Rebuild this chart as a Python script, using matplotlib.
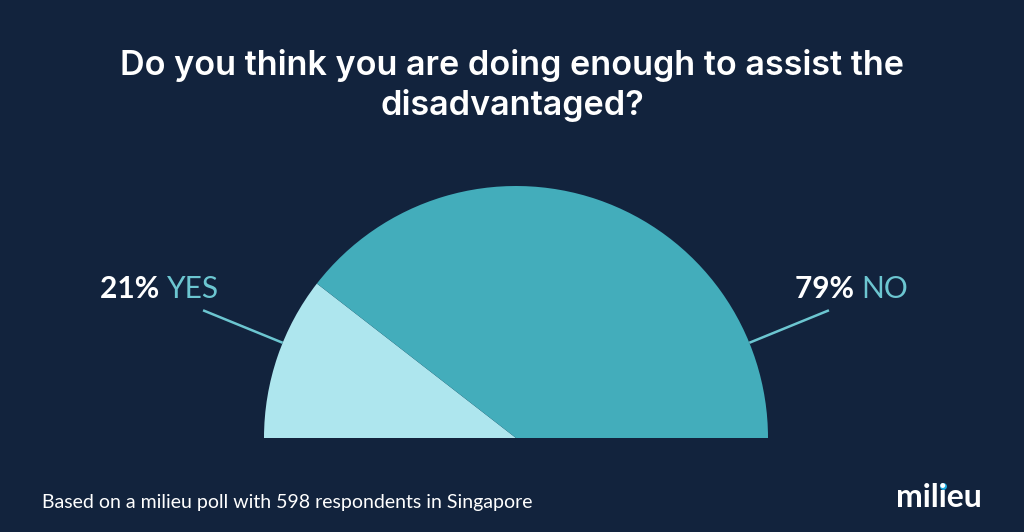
import matplotlib.pyplot as plt
import numpy as np

# data
labels = ["YES", "NO"]
values = [21, 79]
pct_text = ["21%", "79%"]

title_lines = ["Do you think you are doing enough to assist the", "disadvantaged?"]
footer = "Based on a milieu poll with 598 respondents in Singapore"

bg = "#12233d"
c_yes = "#aee6ee"
c_no = "#43adbb"
c_lab = "#6cc6d1"

W, H = 1024, 532
fig = plt.figure(figsize=(W / 100, H / 100), dpi=100, facecolor=bg)
ax = fig.add_axes([0, 0, 1, 1])

cx, cy, r = 516, H - 438, 252

# half pie: pad with an invisible wedge for the lower half
ax.pie(values + [sum(values)], colors=[c_yes, c_no, "none"],
       startangle=180, counterclock=False, radius=r,
       center=(cx, cy), frame=True, wedgeprops=dict(linewidth=0))
ax.set_xlim(0, W)
ax.set_ylim(0, H)
ax.set_aspect("equal")
ax.axis("off")

# leader lines
for ang in [157.8, 22.2]:
    a = np.radians(ang)
    ax.plot([cx + r * np.cos(a), cx + 338 * np.cos(a)],
            [cy + r * np.sin(a), cy + 338 * np.sin(a)],
            color=c_lab, lw=1.8, solid_capstyle="butt")

fig.canvas.draw()
rend = fig.canvas.get_renderer()

# labels
lab_y = H - 298
for x0, pct, lab in [(100, pct_text[0], labels[0]), (795, pct_text[1], labels[1])]:
    t = ax.text(x0, lab_y, pct + " ", color="white", fontsize=21.5,
                family="Lato", weight="bold", va="baseline")
    bb = t.get_window_extent(rend)
    ax.text(bb.x1, lab_y, lab, color=c_lab, fontsize=21.5,
            family="Lato", va="baseline")

# title
for yb, line in zip([75, 115], title_lines):
    fig.text(0.5, 1 - yb / H, line, color="white", fontsize=24.6,
             family="Inter", weight="semibold", ha="center", va="baseline")

# footer
fig.text(42 / W, 1 - 508 / H, footer, color="white", fontsize=14,
         family="Lato", va="baseline")

# logo
lx, ly = 896, H - 507
fig_logo = ax.text(lx, ly, "milieu", color="white", fontsize=23,
                   family="Lato", weight="bold", va="baseline")
t_a = ax.text(lx, ly, "mil", fontsize=23, family="Lato", weight="bold",
              va="baseline", alpha=0)
t_b = ax.text(lx, ly, "mili", fontsize=23, family="Lato", weight="bold",
              va="baseline", alpha=0)
xa = t_a.get_window_extent(rend).x1
xb = t_b.get_window_extent(rend).x1
ax.plot((xa + xb) / 2, ly + 21, "o", color="#1aa9e0", ms=5, mec="none")

fig.savefig("out.png", dpi=100, facecolor=bg)
